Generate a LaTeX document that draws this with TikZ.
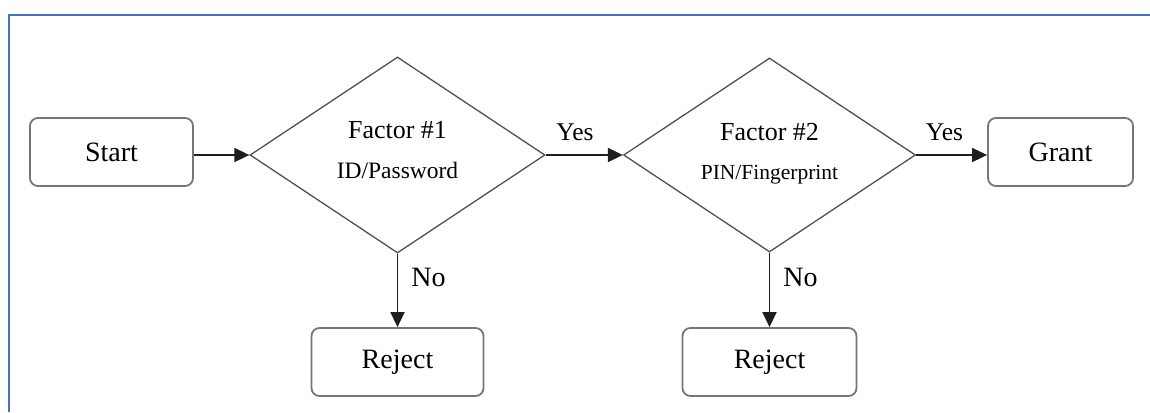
\documentclass[tikz,border=0pt]{standalone}
\usepackage{fontspec}
\setmainfont{Liberation Serif}
\usetikzlibrary{arrows.meta,shapes.geometric}

\definecolor{boxline}{RGB}{118,118,118}
\definecolor{dline}{RGB}{80,80,80}
\definecolor{arrline}{RGB}{30,30,30}
\definecolor{framec}{RGB}{68,114,196}
\newcommand{\fsz}[1]{\fontsize{#1}{#1}\selectfont}

\begin{document}
\begin{tikzpicture}[x=1pt, y=-1pt,
    box/.style={draw=boxline, line width=1.8pt, rounded corners=8pt, minimum height=68pt, inner sep=0pt, font=\fsz{28}},
    decision/.style={diamond, aspect=1.5, draw=dline, line width=1.3pt, minimum width=295pt, minimum height=196pt, inner sep=0pt, align=center},
    arr/.style={-{Triangle[length=15pt,width=14pt]}, line width=1.8pt, color=arrline},
    lbl/.style={inner sep=0pt, text=black},
  ]
  \useasboundingbox (0,0) rectangle (1150,412);
  % Frame
  \draw[framec, line width=2.5pt] (9,412) |- (1150,15);

  % Boxes
  \node[box, minimum width=163pt] (start)   at (111.5,152) {Start};
  \node[box, minimum width=145pt] (grant)   at (1060.5,152) {Grant};
  \node[box, minimum width=172pt] (reject1) at (397.5,362) {Reject};
  \node[box, minimum width=174pt] (reject2) at (769.5,362) {Reject};

  % Decisions
  \node[decision] (fac1) at (397.5,155)
    {\fsz{26}Factor \#1\\[22.5pt]\fsz{23.5}ID/Password\rule[-10pt]{0pt}{0pt}};
  \node[decision, minimum width=292pt, minimum height=194pt] (fac2) at (769.5,155)
    {\fsz{26}Factor \#2\\[23.5pt]\fsz{21.5}PIN/Fingerprint\rule[-7pt]{0pt}{0pt}};

  % Edges
  \draw[arr] (start.east |- fac1.west) -- (fac1.west);
  \draw[arr] (fac1.east) -- node[lbl, pos=0.38, above=13pt, font=\fsz{25.5}] (yes1) {Yes} (fac2.west);
  \draw[arr] (fac2.east) -- node[lbl, pos=0.40, above=13pt, font=\fsz{25.5}] (yes2) {Yes} (fac2.east -| grant.west);
  \draw[arr] (fac1.south) -- node[lbl, pos=0.33, right=13pt, font=\fsz{28}] (no1) {No} (reject1.north);
  \draw[arr] (fac2.south) -- node[lbl, pos=0.33, right=13pt, font=\fsz{28}] (no2) {No} (reject2.north);
\end{tikzpicture}
\end{document}
